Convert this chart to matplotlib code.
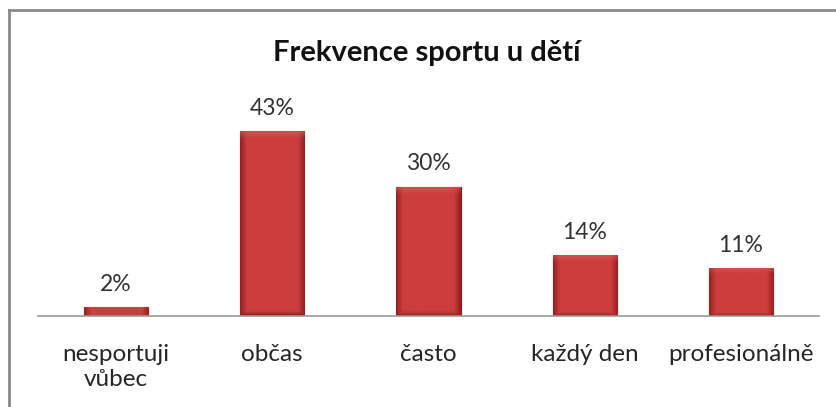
import matplotlib
matplotlib.use('Agg')
import matplotlib.pyplot as plt
from matplotlib.lines import Line2D
import numpy as np

kategorie = ['nesportuji\nvůbec', 'občas', 'často', 'každý den', 'profesionálně']
podil = [2, 43, 30, 14, 11]
popisky = ['2%', '43%', '30%', '14%', '11%']

plt.rcParams['font.family'] = ['Lato', 'DejaVu Sans']

fig = plt.figure(figsize=(8.37, 4.07), dpi=100)
ax = fig.add_axes([38/837, 91/407, 781/837, 215/407])

x = np.arange(len(kategorie))
w = 0.41
bars = ax.bar(x, podil, width=w, color='#c03838', edgecolor='#7e1a1a', linewidth=0.8, zorder=2)

# bevel-ish shading: darker sides, lighter top, darker bottom
svetla = np.array([0.80, 0.24, 0.24])
tmava = np.array([0.58, 0.12, 0.12])
hx = np.linspace(-1, 1, 40)
sx = np.clip((np.abs(hx) - 0.8) / 0.2, 0, 1)
for b in bars:
    x0, y0 = b.get_x(), b.get_y()
    bw, bh = b.get_width(), b.get_height()
    vy = np.linspace(0, 1, 60)[:, None]
    top = np.clip((vy - (1 - min(0.12, 1.5 / bh))) / min(0.12, 1.5 / bh), 0, 1)
    bot = np.clip(1 - vy / min(0.06, 0.8 / bh), 0, 1)
    f = np.maximum(sx[None, :], bot) * 0.9
    img = svetla[None, None, :] * (1 - f[..., None]) + tmava[None, None, :] * f[..., None]
    img = img * (1 - 0.5 * top[..., None]) + np.array([0.88, 0.36, 0.36]) * 0.5 * top[..., None]
    ax.imshow(img, extent=[x0, x0 + bw, y0, y0 + bh], origin='lower', aspect='auto',
              interpolation='bilinear', zorder=3)

for xi, p, t in zip(x, podil, popisky):
    ax.annotate(t, (xi, p), xytext=(0, 9), textcoords='offset points',
                ha='center', va='bottom', fontsize=16.5, color='#333333')

ax.set_xlim(-0.5, 4.5)
ax.set_ylim(0, 50)
ax.set_xticks(x)
ax.set_xticklabels(kategorie, fontsize=17.5, color='#262626', linespacing=1.25)
ax.tick_params(axis='x', length=0, pad=20)
ax.set_yticks([])
for s in ['top', 'right', 'left']:
    ax.spines[s].set_visible(False)
ax.spines['bottom'].set_color('#999999')
ax.spines['bottom'].set_linewidth(1.2)
ax.spines['bottom'].set_zorder(4)

fig.text(427/837, 1 - 53/407, 'Frekvence sportu u dětí', ha='center', va='center',
         fontsize=21, fontweight='bold', color='#111111')

# outer chart frame (only top and left visible)
fig.add_artist(Line2D([9/837, 1], [1 - 10/407, 1 - 10/407], color='#8a8a8a', lw=2))
fig.add_artist(Line2D([9/837, 9/837], [0, 1 - 10/407], color='#8a8a8a', lw=2))

plt.savefig('out.png', dpi=100)
